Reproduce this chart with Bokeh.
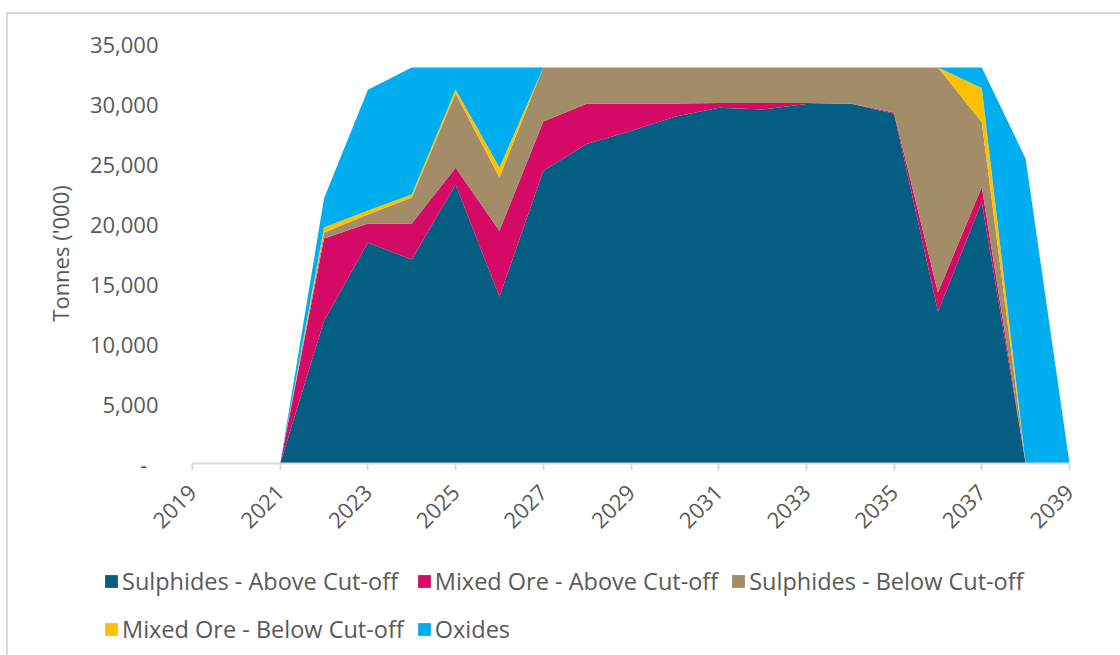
import math
from bokeh.plotting import figure
from bokeh.layouts import column
from bokeh.models import ColumnDataSource, FixedTicker, CustomJSTickFormatter, Legend, Range1d
from bokeh.embed import file_html
from bokeh.resources import INLINE

years = list(range(2019, 2040))
sulphides_above = [0, 0, 0, 11900, 18400, 17000, 23250, 13900, 24400, 26650, 27700,
                   28900, 29650, 29500, 29950, 30000, 29150, 12650, 21800, 0, 0]
mixed_above = [0, 0, 0, 6850, 1600, 3000, 1400, 5500, 4100, 3350, 2300,
               1100, 400, 550, 100, 0, 100, 1600, 1250, 0, 0]
sulphides_below = [0, 0, 0, 500, 750, 2170, 6180, 4430, 4500, 3000, 3000,
                   3000, 2950, 2950, 2950, 3000, 3750, 18750, 5390, 0, 0]
mixed_below = [0, 0, 0, 420, 330, 250, 340, 840, 0, 0, 0,
               0, 0, 0, 0, 0, 0, 0, 2860, 0, 0]
oxides = [0, 0, 0, 2430, 10060, 10580, 1830, 8330, 0, 0, 0,
          0, 0, 0, 0, 0, 0, 0, 1700, 25400, 0]

series = ["Sulphides - Above Cut-off", "Mixed Ore - Above Cut-off",
          "Sulphides - Below Cut-off", "Mixed Ore - Below Cut-off", "Oxides"]
keys = ["s_above", "m_above", "s_below", "m_below", "oxides"]
colors = ["#035e81", "#d50a66", "#a38d69", "#ffc000", "#00aeef"]
x_ticks = list(range(2019, 2040, 2))
y_ticks = list(range(0, 35001, 5000))

source = ColumnDataSource(dict(year=years, s_above=sulphides_above, m_above=mixed_above,
                               s_below=sulphides_below, m_below=mixed_below, oxides=oxides))

FONT = "Open Sans"
GREY = "#595959"

p = figure(width=1120, height=555, output_backend="svg", toolbar_location=None,
           x_range=Range1d(2019, 2039), y_range=Range1d(0, 35000),
           min_border_left=192, min_border_right=51, min_border_top=43, min_border_bottom=92)
p.border_fill_color = None
p.background_fill_color = "white"
p.outline_line_color = None

renderers = p.varea_stack(stackers=keys, x="year", color=colors, source=source)

p.xgrid.visible = False
p.ygrid.visible = False

xa = p.xaxis[0]
xa.ticker = FixedTicker(ticks=x_ticks)
xa.axis_line_color = "#d9d9d9"
xa.axis_line_width = 2
xa.major_tick_line_color = "#d9d9d9"
xa.major_tick_line_width = 2
xa.major_tick_out = 7
xa.major_tick_in = 0
xa.minor_tick_line_color = None
xa.major_label_orientation = math.pi / 4
xa.major_label_text_font = FONT
xa.major_label_text_font_size = "22px"
xa.major_label_text_color = GREY
xa.major_label_standoff = 18

ya = p.yaxis[0]
ya.ticker = FixedTicker(ticks=y_ticks)
ya.formatter = CustomJSTickFormatter(code="""
    if (tick == 0) { return '-\u00a0\u00a0'; }
    return tick.toLocaleString('en-US');
""")
ya.axis_line_color = None
ya.major_tick_line_color = None
ya.minor_tick_line_color = None
ya.major_label_text_font = FONT
ya.major_label_text_font_size = "22px"
ya.major_label_text_color = GREY
ya.major_label_standoff = 28
ya.axis_label = "Tonnes ('000)"
ya.axis_label_text_font = FONT
ya.axis_label_text_font_style = "normal"
ya.axis_label_text_font_size = "22px"
ya.axis_label_text_color = GREY
ya.axis_label_standoff = 12

# legend panel (its own small figure; the key renderers are hidden, only the legend shows)
pl = figure(width=1120, height=100, output_backend="svg", toolbar_location=None,
            x_axis_location=None, y_axis_location=None,
            x_range=Range1d(2019, 2039), y_range=Range1d(0, 35000),
            min_border=0, min_border_left=0, min_border_right=0,
            min_border_top=0, min_border_bottom=0)
if "frame_align" in pl.properties():
    pl.frame_align = False
pl.border_fill_color = None
pl.background_fill_color = None
pl.outline_line_color = None
pl.xgrid.visible = False
pl.ygrid.visible = False
key_renderers = pl.varea_stack(stackers=keys, x="year", color=colors, source=source)
for r in key_renderers:
    r.visible = False

legend = Legend(items=[(name, [r]) for name, r in zip(series, key_renderers)],
                location=(103, 8), orientation="horizontal", nrows=2,
                glyph_width=16, glyph_height=16, label_standoff=3, spacing=12,
                label_height=36, padding=0, margin=0,
                inactive_fill_alpha=0,
                label_text_font=FONT, label_text_font_size="23.5px", label_text_color=GREY,
                border_line_color=None, background_fill_alpha=0)
pl.add_layout(legend, "center")

layout = column(p, pl, spacing=0,
                styles={"background": "linear-gradient(#d9d9d9,#d9d9d9) 7px 12px / 100% 2px no-repeat, "
                                      "linear-gradient(#d9d9d9,#d9d9d9) 6px 12px / 2px 100% no-repeat, white"})

open("out.html", "w").write(file_html(layout, INLINE))
